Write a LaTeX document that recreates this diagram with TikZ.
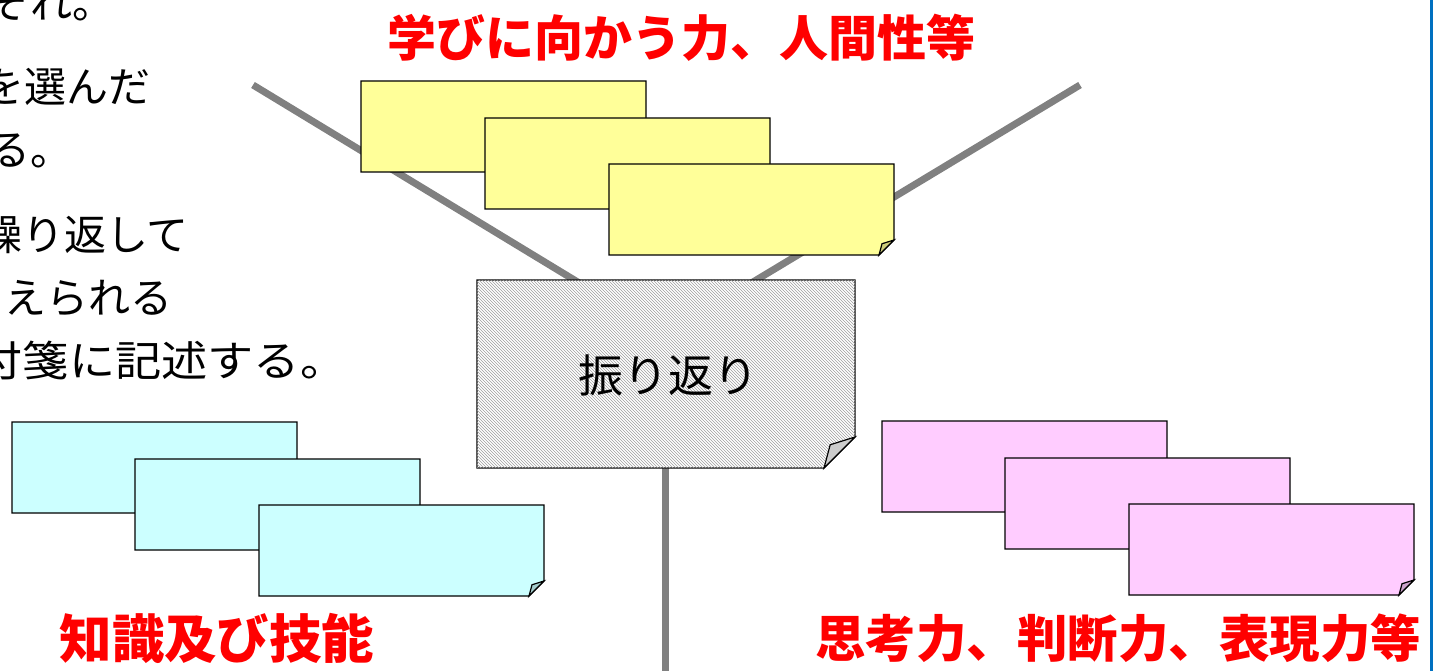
\documentclass[tikz,border=0pt]{standalone}
\usepackage{fontspec}
\setmainfont{Noto Sans CJK JP}
\usetikzlibrary{patterns}
\definecolor{notey}{HTML}{FFFF99}
\definecolor{notec}{HTML}{CCFFFF}
\definecolor{notep}{HTML}{FFCCFF}
\definecolor{foldy}{HTML}{CCCC7A}
\definecolor{foldc}{HTML}{A3CCCC}
\definecolor{foldp}{HTML}{CCA3CC}
\definecolor{labelred}{HTML}{FF0000}
\definecolor{edgeblue}{HTML}{0070C0}
\definecolor{spoke}{HTML}{808080}
\newcommand\drawnote[4]{%
  \draw[notebord, fill=#2] (#1.north west) -- (#1.north east) -- ([yshift=#4pt]#1.south east) -- ([xshift=-#4pt]#1.south east) -- (#1.south west) -- cycle;
  \draw[notebord, fill=#3] ([yshift=#4pt]#1.south east) -- ([xshift=-0.8*#4pt, yshift=0.75*#4pt]#1.south east) -- ([xshift=-#4pt]#1.south east) -- cycle;}
\begin{document}
\begin{tikzpicture}[x=1pt, y=-1pt,
  notebox/.style={draw=none, inner sep=0pt, outer sep=0pt, anchor=north west, minimum width=285pt, minimum height=91pt},
  notebord/.style={draw=black, line width=1.2pt, line join=miter},
  spokeline/.style={draw=spoke, line width=7pt},
  body/.style={inner sep=0pt, anchor=base west, font=\fontsize{42}{42}\selectfont},
  lbl/.style={inner sep=0pt, text=labelred, font=\fontsize{49}{49}\selectfont\bfseries}]
\useasboundingbox (0,0) rectangle (1433,671);
\clip (0,0) rectangle (1433,671);
% spokes
\coordinate (hub) at (665,335);
\coordinate (endtl) at (253,85);
\coordinate (endtr) at (1080,85);
\coordinate (endb) at (665,675);
\draw[spokeline] (hub) -- (endtl);
\draw[spokeline] (hub) -- (endtr);
\draw[spokeline] (hub) -- (endb);
% yellow notes
\node[notebox] (ya) at (361,81) {};
\node[notebox] (yb) at (485,118) {};
\node[notebox] (yc) at (609,164) {};
\drawnote{ya}{notey}{foldy}{15}
\drawnote{yb}{notey}{foldy}{15}
\drawnote{yc}{notey}{foldy}{15}
% cyan notes
\node[notebox] (ca) at (12,422) {};
\node[notebox] (cb) at (135,459) {};
\node[notebox] (cc) at (259,505) {};
\drawnote{ca}{notec}{foldc}{15}
\drawnote{cb}{notec}{foldc}{15}
\drawnote{cc}{notec}{foldc}{15}
% pink notes
\node[notebox] (pa) at (882,421) {};
\node[notebox] (pb) at (1005,458) {};
\node[notebox] (pc) at (1129,504) {};
\drawnote{pa}{notep}{foldp}{15}
\drawnote{pb}{notep}{foldp}{15}
\drawnote{pc}{notep}{foldp}{15}
% centre note
\node[notebox, minimum width=378pt, minimum height=188pt] (cn) at (477,280) {};
\drawnote{cn}{white, postaction={pattern=north west lines, pattern color=gray!75}}{gray!40}{31}
\node[inner sep=0pt, font=\fontsize{45}{45}\selectfont] (cntext) at (668,375) {振り返り};
% labels
\node[lbl] (lt) at (681,38) {学びに向かう力、人間性等};
\node[lbl, font=\fontsize{52.5}{52.5}\selectfont\bfseries] (lk) at (217,638) {知識及び技能};
\node[lbl, font=\fontsize{50.5}{50.5}\selectfont\bfseries] (lp) at (1118,638) {思考力、判断力、表現力等};
% body text (cut at the left edge)
\node[body] (t1) at (-12,19) {ぞれ。};
\node[body] (t2) at (-18,103) {を選んだ};
\node[body] (t3) at (-12,166) {る。};
\node[body] (t4) at (-20,251) {繰り返して};
\node[body] (t5) at (4,313) {えられる};
\node[body, xscale=1.1, transform shape] (t6) at (-23.6,376) {付箋に記述する。};
% blue edge
\draw[edgeblue, line width=2.5pt] (1431.5,0) -- (1431.5,671);
\end{tikzpicture}
\end{document}
